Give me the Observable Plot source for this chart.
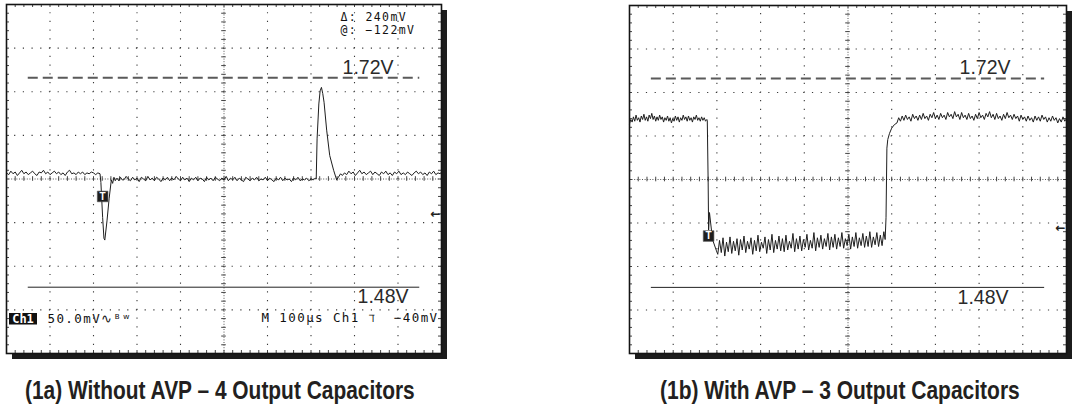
<!DOCTYPE html>
<html><head><meta charset="utf-8">
<script src="https://cdn.jsdelivr.net/npm/d3@7"></script>
<script src="https://cdn.jsdelivr.net/npm/@observablehq/plot@0.6"></script>
<style>
body{margin:0;background:#fff;}
#wrap{position:relative;width:1078px;height:415px;overflow:hidden;background:#fff;}
.panel{position:absolute;top:0;}
.cap{position:absolute;top:376px;line-height:28px;font-family:"Liberation Sans",Arial,sans-serif;font-weight:bold;font-size:26px;color:#231f20;white-space:nowrap;transform-origin:0 0;}
</style></head><body><div id="wrap"></div>
<script>
// ---- scope settings (time in µs, voltage in mV) ----
const timeTicks = [0,100,200,300,400,500,600,700,800,900,1000];
const voltTicks = [1404,1454,1504,1554,1604,1654,1704,1754,1804];
const refLevels = [1720, 1480];
const refLabels = ["1.72V", "1.48V"];
const refSpan = [50, 950];
const captions = ["(1a) Without AVP \u2013 4 Output Capacitors", "(1b) With AVP \u2013 3 Output Capacitors"];
const cursorText = ["\u0394: 240mV", "@: \u2212122mV"];
const statusLeft = "50.0mV\u223F\u1D2E\u02B7";
const statusRight = "M 100\u00B5s Ch1 \u2138  \u221240mV";
const trigLeft = [[221, 1584]];
const trigRight = [[181, 1539]];
const trigLevelLeft = [1564];
const trigLevelRight = [1548];

// ---- trace 1a: without AVP ----
const traceLeft = [
[0,1611],[5,1609],[10,1613],[15,1610],[20,1612],[25,1608],[30,1611],[35,1614],[40,1610],[45,1612],[50,1609],[55,1611],[60,1613],[65,1610],[70,1608],[75,1612],[80,1611],[85,1614],[90,1610],[95,1612],[100,1609],[105,1611],[110,1613],[115,1610],[120,1612],[125,1609],[130,1611],[135,1608],[140,1612],[145,1614],[150,1610],[155,1611],[160,1609],[165,1612],[170,1610],[175,1612],[180,1609],[185,1611],[190,1610],[195,1612],[200,1611],[205,1609],[210,1611],[215,1610],
[217,1600],[221,1560],[224,1536],[226,1534],[231,1556],[236,1582],[241,1603],[244,1599],[247,1606],
[250,1602],[254,1605],[258,1602],[262,1606],[266,1603],[270,1603],[275,1607],[280,1604],[285,1602],[290,1606],[295,1603],[300,1605],[305,1601],[310,1606],[315,1604],[320,1602],[325,1607],[330,1603],[335,1605],[340,1602],[345,1606],[350,1604],[355,1601],[360,1605],[365,1603],[370,1606],[375,1602],[380,1605],[385,1603],[390,1607],[395,1604],[400,1602],[405,1606],[410,1603],[415,1605],[420,1601],[425,1605],[430,1603],[435,1606],[440,1602],[445,1605],[450,1604],[455,1601],[460,1606],[465,1603],[470,1605],[475,1602],[480,1606],[485,1604],[490,1602],[495,1605],[500,1603],[505,1607],[510,1602],[515,1605],[520,1603],[525,1606],[530,1602],[535,1605],[540,1603],[545,1601],[550,1606],[555,1604],[560,1602],[565,1605],[570,1603],[575,1606],[580,1602],[585,1604],[590,1603],[595,1606],[600,1602],[605,1605],[610,1603],[615,1601],[620,1605],[625,1603],[630,1606],[635,1602],[640,1605],[645,1603],[650,1604],[655,1601],[660,1605],[665,1603],[670,1606],[675,1602],[680,1604],[685,1603],[690,1605],[695,1602],[700,1604],[705,1603],[710,1605],
[712,1604],[714,1650],[718,1690],[721,1705],[724,1709],[727,1702],[730,1692],[736,1660],[743,1631],[752,1614],[759,1603],[763,1606],[768,1610],
[772,1608],[777,1611],[782,1609],[787,1613],[792,1610],[797,1612],[802,1608],[807,1611],[812,1614],[817,1610],[822,1612],[827,1609],[832,1611],[837,1613],[842,1609],[847,1612],[852,1610],[857,1608],[862,1612],[867,1610],[872,1613],[877,1609],[882,1611],[887,1608],[892,1612],[897,1610],[902,1613],[907,1609],[912,1611],[917,1609],[922,1612],[927,1610],[932,1608],[937,1611],[942,1613],[947,1610],[952,1612],[957,1609],[962,1611],[967,1608],[972,1612],[977,1610],[982,1613],[987,1609],[992,1611],[997,1610],[1000,1612]
];

// ---- trace 1b: with AVP ----
const traceRight = [
[0,1668],[3,1673],[6,1670],[9,1676],[12,1671],[15,1678],[18,1672],[21,1675],[24,1670],[27,1677],[30,1673],[33,1679],[36,1672],[39,1676],[42,1671],[45,1678],[48,1674],[51,1680],[54,1673],[57,1677],[60,1671],[63,1676],[66,1672],[69,1678],[72,1673],[75,1676],[78,1670],[81,1675],[84,1672],[87,1677],[90,1671],[93,1675],[96,1669],[99,1674],[102,1671],[105,1677],[108,1672],[111,1676],[114,1670],[117,1675],[120,1672],[123,1678],[126,1673],[129,1676],[132,1671],[135,1677],[138,1672],[141,1675],[144,1670],[147,1676],[150,1673],[153,1678],[156,1672],[159,1675],[162,1671],[165,1676],[168,1672],[171,1675],[174,1671],[177,1673],
[178,1672],[180,1600],[181,1546],[183,1566],[190,1535],[199,1522],
[202,1518],[206,1534],[210,1520],[214,1537],[218,1516],[222,1532],[226,1521],[230,1538],[234,1519],[238,1533],[242,1522],[246,1536],[250,1517],[254,1535],[258,1523],[262,1539],[266,1520],[270,1533],[274,1524],[278,1537],[282,1518],[286,1534],[290,1522],[294,1540],[298,1521],[302,1532],[306,1525],[310,1538],[314,1519],[318,1535],[322,1523],[326,1541],[330,1520],[334,1534],[338,1524],[342,1539],[346,1522],[350,1536],[354,1521],[358,1540],[362,1523],[366,1533],[370,1525],[374,1542],[378,1521],[382,1536],[386,1524],[390,1539],[394,1522],[398,1535],[402,1526],[406,1541],[410,1523],[414,1534],[418,1525],[422,1543],[426,1522],[430,1537],[434,1526],[438,1540],[442,1524],[446,1536],[450,1527],[454,1542],[458,1523],[462,1538],[466,1526],[470,1541],[474,1524],[478,1537],[482,1527],[486,1543],[490,1525],[494,1536],[498,1528],[502,1541],[506,1524],[510,1538],[514,1527],[518,1543],[522,1525],[526,1537],[530,1528],[534,1542],[538,1526],[542,1539],[546,1527],[550,1544],[554,1526],[558,1538],[562,1529],[566,1543],[570,1527],[574,1540],[578,1528],[582,1544],[585,1535],
[587,1560],[589,1640],[591,1650],[595,1657],[600,1663],[606,1667],[612,1669],[616,1675],
[620,1671],[624,1677],[628,1672],[632,1678],[636,1673],[640,1676],[644,1671],[648,1679],[652,1674],[656,1677],[660,1672],[664,1678],[668,1673],[672,1680],[676,1674],[680,1677],[684,1672],[688,1679],[692,1675],[696,1681],[700,1674],[704,1678],[708,1673],[712,1680],[716,1675],[720,1678],[724,1673],[728,1681],[732,1676],[736,1679],[740,1674],[744,1682],[748,1676],[752,1679],[756,1673],[760,1681],[764,1675],[768,1678],[772,1673],[776,1680],[780,1674],[784,1677],[788,1672],[792,1679],[796,1674],[800,1681],[804,1675],[808,1678],[812,1673],[816,1680],[820,1676],[824,1682],[828,1675],[832,1679],[836,1673],[840,1680],[844,1674],[848,1677],[852,1672],[856,1679],[860,1674],[864,1681],[868,1675],[872,1678],[876,1673],[880,1679],[884,1674],[888,1677],[892,1671],[896,1678],[900,1673],[904,1676],[908,1671],[912,1677],[916,1672],[920,1675],[924,1670],[928,1677],[932,1672],[936,1676],[940,1671],[944,1678],[948,1673],[952,1676],[956,1670],[960,1675],[964,1671],[968,1677],[972,1672],[976,1675],[980,1669],[984,1674],[988,1670],[992,1676],[996,1671],[1000,1674]
];

const MONO = "DejaVu Sans Mono";
const SANS = "Liberation Sans";

function panel(cfg) {
  const {width, height, mt, mr, mb, ml, trace, trig, trigLevel, labelDx, labelDy, left} = cfg;
  const X0 = timeTicks[0], X1 = timeTicks[timeTicks.length - 1];
  const Y0 = voltTicks[0], Y1 = voltTicks[voltTicks.length - 1];
  const XC = timeTicks[5], YC = voltTicks[4];
  const fw = width - ml - mr, fh = height - mt - mb;
  const sx = fw / 50, sy = fh / 40;
  const xMinor = d3.range(X0, X1 + 0.1, (timeTicks[1] - timeTicks[0]) / 5);
  const yMinor = d3.range(Y0, Y1 + 0.1, (voltTicks[1] - voltTicks[0]) / 5);
  const xInner = timeTicks.slice(1, -1).filter(d => d !== XC);
  const yInner = voltTicks.slice(1, -1).filter(d => d !== YC);
  const gx = (X1 - X0) / fw, gy = (Y1 - Y0) / fh; // data units per px
  const refs = refLevels.map((v, i) => ({v, label: refLabels[i]}));
  const marks = [
    Plot.rect([0], {x1: X0, x2: X1, y1: Y0, y2: Y1, dx: 6, dy: 6, fill: "#1c1c1c"}),
    Plot.rect([0], {x1: X0, x2: X1, y1: Y0, y2: Y1, fill: "#fff"}),
    Plot.ruleX(xInner, {stroke: "#3a3a3a", strokeWidth: 1.1, strokeDasharray: `1.2,${sy - 1.2}`, strokeDashoffset: 0.6}),
    Plot.ruleY(yInner, {stroke: "#3a3a3a", strokeWidth: 1.1, strokeDasharray: `1.2,${sx - 1.2}`, strokeDashoffset: 0.6}),
    Plot.ruleX([XC], {stroke: "#555", strokeWidth: 1, strokeDasharray: "1,1.6"}),
    Plot.ruleY([YC], {stroke: "#555", strokeWidth: 1, strokeDasharray: "1,1.6"}),
    Plot.ruleY(yMinor, {x1: XC - 2.3 * gx, x2: XC + 2.3 * gx, stroke: "#444"}),
    Plot.ruleX(xMinor, {y1: YC - 2.3 * gy, y2: YC + 2.3 * gy, stroke: "#444"}),
    Plot.ruleY(yMinor, {x1: X0, x2: X0 + 3 * gx, stroke: "#444"}),
    Plot.ruleY(yMinor, {x1: X1 - 3 * gx, x2: X1, stroke: "#444"}),
    Plot.ruleX(xMinor, {y1: Y0, y2: Y0 + 3 * gy, stroke: "#444"}),
    Plot.ruleX(xMinor, {y1: Y1 - 3 * gy, y2: Y1, stroke: "#444"}),
    Plot.ruleY([refs[0]], {y: "v", x1: refSpan[0], x2: refSpan[1], stroke: "#5a5a5a", strokeWidth: 2, strokeDasharray: "10,5"}),
    Plot.ruleY([refs[1]], {y: "v", x1: refSpan[0], x2: refSpan[1], stroke: "#222", strokeWidth: 1}),
    Plot.text([refs[0]], {x: X1, y: "v", text: "label", textAnchor: "end", lineAnchor: "bottom", dx: labelDx[0], dy: labelDy[0], fontFamily: SANS, fontSize: 19.5, fill: "#2a2a2a"}),
    Plot.text([refs[1]], {x: X1, y: "v", text: "label", textAnchor: "end", lineAnchor: "bottom", dx: labelDx[1], dy: labelDy[1], fontFamily: SANS, fontSize: 19.5, fill: "#2a2a2a"}),
    Plot.line(trace, {x: d => d[0], y: d => d[1], stroke: "#1e1e1e", strokeWidth: 1}),
    Plot.dot(trig, {x: d => d[0], y: d => d[1], symbol: "square", r: 6, fill: "#1e1e1e", stroke: "#555", strokeWidth: 0.6}),
    Plot.text(trig, {x: d => d[0], y: d => d[1], text: () => "T", fill: "#fff", fontFamily: SANS, fontSize: 10, fontWeight: "bold"}),
    Plot.text(trigLevel, {x: X1, y: d => d, text: () => "\u2190", textAnchor: "end", dx: -1, fontFamily: "DejaVu Sans", fontSize: 12, fontWeight: "bold", fill: "#222"}),
    Plot.frame({stroke: "#141414", strokeWidth: 1.6})
  ];
  if (left) {
    marks.push(
      Plot.text([cursorText[0]], {frameAnchor: "top-right", textAnchor: "start", lineAnchor: "bottom", dx: -101, dy: 16, fontFamily: MONO, fontSize: 11.5, fill: "#111"}),
      Plot.text([cursorText[1]], {frameAnchor: "top-right", textAnchor: "start", lineAnchor: "bottom", dx: -101, dy: 29, fontFamily: MONO, fontSize: 11.5, fill: "#111"}),
      Plot.text([statusLeft], {frameAnchor: "bottom-left", textAnchor: "start", lineAnchor: "bottom", dx: 41, dy: -31, fontFamily: MONO, fontSize: 12.5, fill: "#111"}),
      Plot.text([statusRight], {frameAnchor: "bottom-right", textAnchor: "end", lineAnchor: "bottom", dx: -3, dy: -32, fontFamily: MONO, fontSize: 12.5, fill: "#111"}),
      (index, scales, values, dims) => {
        const g = d3.create("svg:g");
        const x = dims.marginLeft + 3, y = dims.height - dims.marginBottom - 40;
        g.append("rect").attr("x", x).attr("y", y).attr("width", 28).attr("height", 11.5).attr("fill", "#111");
        g.append("text").attr("x", x + 14).attr("y", y + 10).attr("text-anchor", "middle").attr("fill", "#fff")
          .attr("font-family", MONO).attr("font-weight", "bold").attr("font-size", 12).text("Ch1");
        return g.node();
      }
    );
  }
  const svg = Plot.plot({
    width, height, marginTop: mt, marginRight: mr, marginBottom: mb, marginLeft: ml,
    x: {domain: [X0, X1], axis: null},
    y: {domain: [Y0, Y1], axis: null},
    style: {background: "transparent", overflow: "visible"},
    marks
  });
  svg.querySelectorAll(`g[font-family="${MONO}"]`).forEach(g => g.setAttribute("letter-spacing", "1.4"));
  return svg;
}

const wrap = document.getElementById("wrap");
const a = panel({width: 452, height: 364, mt: 4, mr: 11, mb: 11, ml: 6, trace: traceLeft, trig: trigLeft, trigLevel: trigLevelLeft, labelDx: [-48, -33], labelDy: [-4, 16], left: true});
a.classList.add("panel"); a.style.left = "0px";
wrap.appendChild(a);
const b = panel({width: 458, height: 364, mt: 5, mr: 12, mb: 11, ml: 9, trace: traceRight, trig: trigRight, trigLevel: trigLevelRight, labelDx: [-56, -58], labelDy: [-5, 17], left: false});
b.classList.add("panel"); b.style.left = "620px";
wrap.appendChild(b);

// caption layout: [left edge, target width]
const capBox = [[25, 390], [660, 360]];
captions.forEach((c, i) => {
  const d = document.createElement("div");
  d.className = "cap";
  d.textContent = c;
  wrap.appendChild(d);
  const w = d.offsetWidth;
  d.style.left = capBox[i][0] + "px";
  d.style.transform = `scaleX(${capBox[i][1] / w})`;
});
</script>
</body></html>
